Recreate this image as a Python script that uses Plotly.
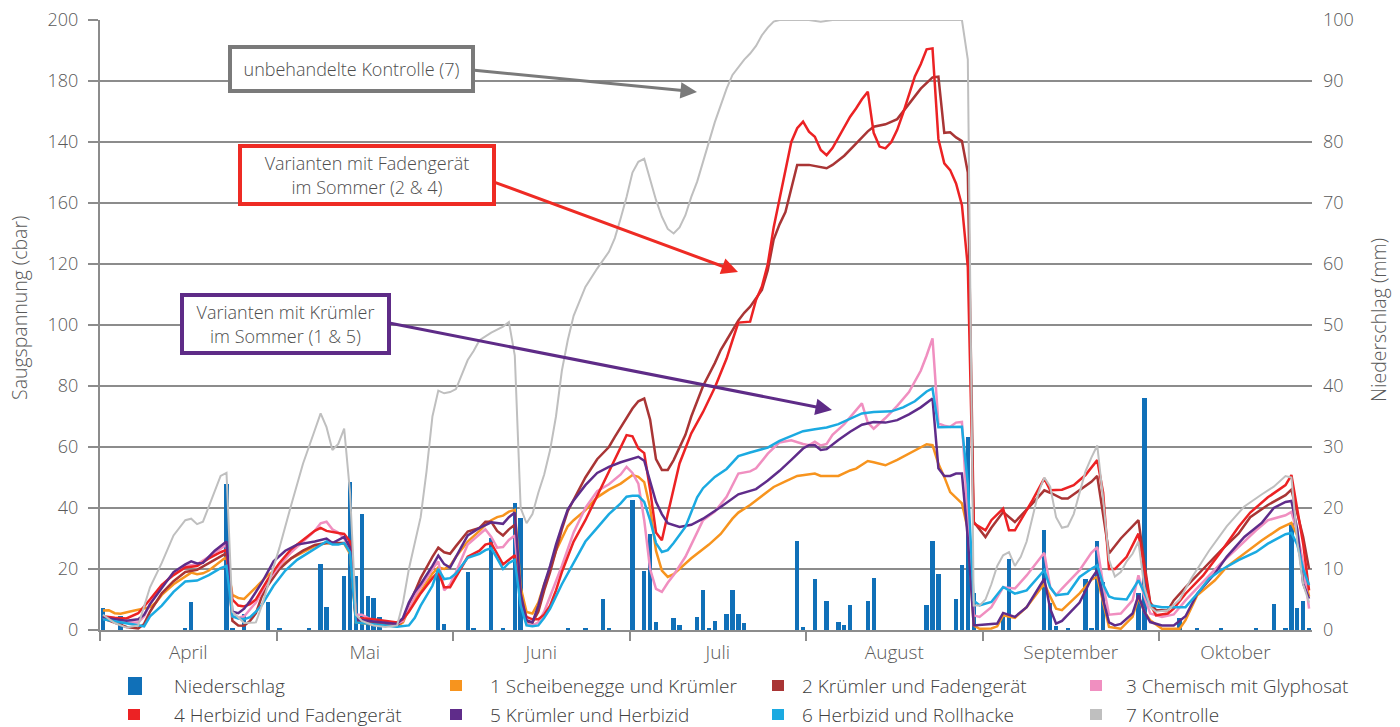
import plotly.graph_objects as go

# ---------------------------------------------------------------------------
# Data: soil water tension (cbar) per variant and daily precipitation (mm).
# Day 0 = 1 April; the category axis has a month tick every 30 days.
# ---------------------------------------------------------------------------
n_days = 206
month_names = ["April", "Mai", "Juni", "Juli", "August", "September", "Oktober"]
month_label_pos = [15, 45, 75, 105, 135, 165, 193]
month_bounds = [0, 30, 60, 90, 120, 150, 180]

cbar_ticks = [0, 20, 40, 60, 80, 100, 120, 140, 160, 180, 200]
cbar_tick_text = ["0", "20", "40", "60", "80", "100", "120", "160", "140", "180", "200"]
mm_ticks = [0, 10, 20, 30, 40, 50, 60, 70, 80, 90, 100]

rain_day = [0, 3, 14, 15, 21, 22, 24, 28, 30, 35, 37, 38, 41, 42, 43, 44, 45, 46, 47,
            57, 58, 62, 63, 66, 68, 70, 71, 79, 82, 85, 86, 90, 92, 93, 94, 97, 98,
            101, 102, 103, 104, 106, 107, 108, 109, 118, 119, 121, 123, 125, 126, 127,
            130, 131, 140, 141, 142, 145, 146, 147, 148, 153, 154, 160, 161, 162, 164,
            167, 168, 169, 170, 176, 177, 181, 183, 186, 190, 196, 199, 201, 202, 203,
            204, 205]
rain_mm = [3.6, 2.3, 0.3, 4.6, 23.9, 0.3, 2.7, 4.6, 0.3, 0.4, 10.9, 3.7, 8.8, 24.3, 8.8,
           19.0, 5.5, 5.3, 2.1, 9.8, 1.0, 9.5, 0.3, 15.1, 0.3, 20.8, 18.3, 0.3, 0.3, 5.1,
           0.4, 21.3, 9.7, 15.7, 1.3, 1.9, 0.8, 2.2, 6.5, 0.3, 1.4, 2.7, 6.5, 2.6, 1.1,
           14.6, 0.5, 8.3, 4.8, 1.3, 0.9, 4.1, 4.8, 8.5, 4.1, 14.6, 9.1, 5.1, 10.7, 31.7,
           6.0, 2.2, 11.6, 16.4, 4.4, 0.7, 0.3, 8.3, 0.3, 14.6, 7.8, 6.0, 38.1, 0.2, 1.9,
           0.2, 0.2, 0.2, 4.3, 0.2, 17.5, 3.6, 4.8, 0.3]

# (day, cbar) vertices of each variant
v1_scheibenegge = [
    (0, 6.4), (1, 6.5), (2, 5.5), (3, 5.3), (5, 6.2), (7, 7.1), (8, 7.5), (9, 9), (10, 11.5),
    (12, 15), (14, 17.5), (15, 18.8), (16, 18.3), (17, 18.6), (18, 19.5), (20, 22.5), (21, 24),
    (22, 11.5), (23, 10.5), (24, 10.2), (25, 12), (26, 14), (28, 18), (30, 20.5), (32, 23.5),
    (34, 25.5), (36, 27.5), (38, 28.5), (40, 28.5), (41, 28.3), (42, 25), (43, 2.5), (46, 1.8),
    (48, 1.5), (50, 1.2), (51, 2.5), (52, 7), (53, 10), (54, 12.5), (56, 18.5), (57, 20.5),
    (58, 20), (59, 21), (60, 24), (62, 29), (64, 32.5), (65, 34.5), (66, 36), (67, 37),
    (68, 37.5), (69, 38.8), (70, 39.4), (71, 14), (72, 5.9), (73, 5.4), (74, 9), (75, 15),
    (76, 20), (77, 26), (78, 30), (79, 34), (80, 36), (82, 39.3), (84, 43.5), (86, 46),
    (88, 48), (89, 49.5), (90, 50.8), (91, 50.2), (92, 48.5), (93, 40), (94, 26), (95, 19.5),
    (96, 17.4), (97, 18.3), (98, 20), (100, 23.5), (103, 28), (105, 31.5), (107, 36.5),
    (108, 38.5), (110, 41), (112, 44), (114, 46.9), (116, 48.7), (118, 50.5), (121, 51.3),
    (122, 50.5), (125, 50.5), (127, 52.3), (128, 52.9), (130, 55.4), (131, 55), (133, 54),
    (135, 55.8), (137, 57.8), (139, 60), (140, 60.9), (141, 60.6), (142, 54.5), (143, 50.2),
    (144, 45.2), (146, 41.5), (147, 33), (148, 1.5), (149, 0.4), (151, 0.5), (152, 1.2),
    (153, 4.8), (155, 4), (157, 7.5), (160, 15.2), (161, 11), (162, 7), (163, 6.5), (166, 12),
    (168, 16.5), (169, 17.4), (170, 9), (171, 1), (173, 0.4), (175, 4.3), (176, 10.8),
    (177, 6), (178, 3.2), (180, 0.4), (183, 0.4), (184, 3.2), (186, 11.4), (189, 16.3),
    (191, 20.7), (194, 25.1), (197, 29.4), (200, 33.3), (202, 35.1), (203, 31), (204, 20),
    (205, 11)]

v2_kruemler_faden = [
    (0, 3.8), (2, 2.5), (4, 1), (6, 0.5), (7, 2), (8, 6), (10, 12), (12, 16), (14, 19),
    (16, 19.7), (18, 22), (20, 24.3), (21, 25.2), (22, 3), (23, 1.5), (24, 1.4), (25, 3),
    (26, 5.5), (27, 11), (28, 14.5), (30, 20), (32, 23.5), (34, 26), (36, 27.9), (38, 28.5),
    (41, 28.5), (42, 27), (43, 3), (46, 2.2), (48, 1.8), (50, 1.5), (51, 3), (52, 8),
    (53, 12.5), (54, 17), (56, 24), (57, 27), (58, 25.5), (59, 25), (60, 27.5), (62, 32.3),
    (64, 33.5), (65, 35.5), (66, 35.5), (67, 32.5), (68, 31), (69, 33), (70, 34.5), (71, 11),
    (72, 2.6), (73, 2.5), (74, 6), (75, 13), (76, 19), (77, 26), (78, 33), (79, 39),
    (80, 42.5), (82, 50), (84, 56), (86, 60), (87, 63.3), (88, 66.5), (90, 72.6), (91, 75),
    (92, 75.9), (93, 69), (94, 56), (95, 52.5), (96, 52.5), (97, 55.7), (98, 60), (99, 64),
    (100, 70), (102, 80), (104, 87.5), (105, 91.8), (106, 95), (107, 98.5), (108, 101.5),
    (109, 104), (110, 106), (112, 111.5), (113, 118), (114, 128), (115, 133), (116, 137),
    (117, 144.3), (118, 152.5), (120, 152.5), (122, 151.7), (123, 151.4), (124, 152.5),
    (126, 155.5), (128, 159.5), (130, 163.5), (131, 165), (133, 165.8), (135, 167.5),
    (137, 172.5), (139, 177.5), (141, 181.2), (142, 181.4), (143, 163), (144, 163.2),
    (145, 161.5), (146, 160.3), (147, 150), (148, 35.5), (150, 30.5), (151, 33.5),
    (153, 38.7), (155, 35.4), (158, 41.5), (160, 45.8), (161, 45), (163, 43.1), (164, 43.1),
    (166, 45.8), (168, 48.6), (169, 50.5), (170, 38), (171, 25.1), (173, 30), (176, 36),
    (177, 22), (178, 9), (179, 6.5), (181, 6.5), (182, 9.7), (184, 14), (187, 20), (190, 26),
    (193, 31.6), (195, 37), (198, 41), (201, 44.2), (202, 46), (203, 38), (204, 30.5),
    (205, 20)]

v3_glyphosat = [
    (0, 4), (2, 3), (4, 2.5), (6, 2.5), (7, 4.5), (8, 8.5), (10, 14.5), (12, 18.5), (14, 21),
    (16, 21.5), (18, 24), (20, 26.5), (21, 28), (22, 4.5), (23, 4), (24, 4.5), (26, 9),
    (28, 16), (30, 21), (32, 25.5), (34, 29), (36, 32.5), (37, 35), (38, 35.5), (39, 33),
    (40, 32), (41, 30), (42, 27), (43, 5), (44, 5), (46, 3), (48, 2.5), (50, 2), (51, 3),
    (52, 7), (53, 11), (54, 14), (56, 20), (57, 22.5), (58, 13), (59, 15), (60, 19), (62, 28),
    (64, 31.5), (65, 33), (66, 30.5), (67, 27), (68, 27.2), (69, 29.5), (70, 31), (71, 9),
    (72, 2), (73, 1.5), (74, 2.5), (75, 6), (76, 11), (78, 21), (80, 32), (82, 40),
    (84, 45.5), (86, 47.8), (88, 51), (89, 53.5), (90, 51.5), (91, 48), (92, 36), (93, 20),
    (94, 13.5), (95, 12.5), (96, 15.5), (97, 18), (99, 24), (100, 28), (101, 32.5), (102, 36),
    (104, 38.8), (106, 43.7), (108, 51.3), (110, 52), (111, 53), (113, 57.8), (115, 61.5),
    (117, 62.2), (119, 61), (120, 60.6), (121, 61.7), (122, 60.5), (123, 61), (124, 64),
    (126, 67.5), (128, 72), (129, 74.3), (130, 68), (131, 66), (133, 69.5), (135, 73.5),
    (137, 78), (138, 81.4), (139, 85), (140, 90), (141, 95.6), (142, 67.7), (143, 67),
    (144, 66.6), (145, 68), (146, 68.2), (147, 35), (148, 4.8), (149, 4.3), (151, 7.5),
    (153, 14), (155, 13.6), (157, 17.9), (160, 25.3), (161, 14), (162, 11.4), (163, 13.6),
    (166, 19.6), (168, 25.3), (169, 27.2), (170, 15), (171, 5), (173, 5.4), (175, 9.7),
    (176, 17.9), (177, 11), (178, 5.4), (180, 4.3), (182, 5.1), (184, 9.7), (187, 15.8),
    (190, 21.8), (193, 27.2), (196, 32.7), (198, 36), (201, 37.6), (202, 38.7), (203, 32),
    (204, 21.8), (205, 7)]

v4_herbizid_faden = [
    (0, 4.5), (2, 4), (4, 3.8), (6, 5.5), (8, 10), (10, 14.8), (12, 18), (14, 20.5), (16, 21),
    (18, 23.5), (20, 25.5), (21, 26.3), (22, 10), (23, 8), (24, 7.7), (25, 8.5), (26, 10),
    (28, 16.5), (30, 22), (32, 26.5), (34, 29.5), (36, 32.5), (37, 33.5), (38, 32.5),
    (40, 31.8), (41, 31.5), (42, 29), (43, 4), (46, 3.5), (48, 3), (50, 2.5), (51, 3.5),
    (52, 6), (54, 12), (56, 17), (57, 19), (58, 14), (59, 14), (60, 17.5), (62, 24), (64, 26),
    (65, 28), (66, 28.5), (67, 25), (68, 21.5), (69, 23), (70, 24.5), (71, 10), (72, 4.3),
    (73, 3.5), (74, 3.5), (75, 5), (76, 8), (77, 13), (78, 19), (79, 24), (80, 29), (82, 36),
    (84, 44), (86, 52), (88, 60), (89, 63.9), (90, 63.5), (91, 59.5), (92, 58), (93, 46),
    (94, 32), (95, 29.4), (96, 38), (98, 54.6), (100, 64.5), (102, 71.5), (104, 79.5),
    (106, 89), (107, 95), (108, 100.8), (110, 101.1), (111, 108.2), (112, 112.6), (113, 120),
    (114, 132), (115, 141), (116, 150), (117, 160), (118, 164.5), (119, 166.7), (120, 163.4),
    (121, 161.7), (122, 157.4), (123, 155.7), (124, 158), (125, 161.5), (126, 164.5),
    (127, 168.3), (128, 171), (129, 174), (130, 176.5), (131, 163), (132, 158.5),
    (133, 157.9), (134, 160), (135, 164), (136, 169.5), (137, 175.5), (138, 181.5),
    (139, 185.5), (140, 190.4), (141, 190.7), (142, 161), (143, 153), (144, 150.8),
    (145, 146.4), (146, 139.3), (147, 119), (148, 35), (150, 32.7), (151, 36), (153, 39.8),
    (154, 32.7), (155, 32.7), (156, 36), (158, 42.6), (160, 49.7), (161, 45.8), (163, 46),
    (165, 47.5), (167, 50.8), (169, 55.7), (170, 45), (171, 20), (172, 20), (174, 24),
    (176, 31.6), (177, 20), (178, 8.6), (179, 4.8), (181, 5.4), (182, 7), (184, 11.9),
    (187, 17.9), (190, 25.6), (193, 33.8), (195, 38.5), (198, 43.5), (201, 47.5),
    (202, 50.8), (203, 40), (204, 28.3), (205, 13)]

v5_kruemler_herbizid = [
    (0, 4), (2, 3.5), (4, 3), (6, 3.5), (7, 5), (8, 8.5), (10, 13.7), (12, 19), (14, 21.5),
    (15, 22.5), (16, 21.8), (17, 22), (19, 26), (21, 29), (22, 6), (23, 5.5), (24, 7),
    (25, 9.5), (27, 15.5), (29, 22.5), (31, 26), (33, 28), (36, 29), (38, 30), (39, 28.5),
    (41, 30.5), (42, 27), (43, 3.5), (46, 2.8), (48, 2.3), (50, 2), (51, 4), (52, 9),
    (53, 12.5), (54, 15), (56, 21), (57, 24.4), (58, 21.6), (59, 20.5), (60, 24), (62, 31),
    (64, 33.5), (66, 35.3), (68, 34.8), (69, 37), (70, 38.5), (71, 12), (72, 3.2), (73, 2.5),
    (74, 8), (75, 15), (76, 21), (77, 28), (78, 34), (79, 39.5), (80, 42.5), (82, 47.5),
    (84, 51.5), (86, 53.5), (88, 55), (90, 56.3), (91, 56.8), (92, 55.5), (93, 49), (94, 42),
    (95, 38), (96, 35), (98, 33.8), (100, 34.5), (102, 36.5), (105, 40.3), (108, 44.5),
    (111, 46.2), (113, 49), (115, 52.2), (117, 55.8), (119, 59.5), (120, 60.6), (121, 60.6),
    (122, 59), (123, 59.3), (125, 62.3), (127, 65), (129, 67.3), (131, 68.2), (133, 68),
    (135, 68.8), (137, 70.7), (139, 73), (141, 75.9), (142, 53), (143, 50.5), (144, 50.5),
    (145, 51.3), (146, 51.3), (147, 30), (148, 1.5), (152, 2.1), (153, 5.6), (155, 4.3),
    (157, 7.5), (160, 16.8), (161, 7), (162, 2.1), (163, 3), (166, 9), (168, 16.8),
    (169, 19.6), (170, 10), (171, 2.5), (172, 1.5), (173, 2), (175, 5.4), (176, 11.4),
    (177, 6), (178, 2.6), (180, 1.5), (182, 1.5), (184, 4.5), (186, 11.9), (189, 18.5),
    (191, 24), (194, 30.5), (197, 35.2), (199, 40), (201, 42), (202, 42.3), (203, 33),
    (204, 15.2), (205, 10.3)]

v6_rollhacke = [
    (0, 3.5), (2, 2.8), (4, 2.2), (6, 1.5), (7, 1.2), (8, 4.5), (10, 8), (12, 12.5),
    (14, 15.9), (16, 16.2), (18, 18), (20, 20.3), (21, 21), (22, 4.5), (23, 3.8), (24, 3.5),
    (25, 4.2), (26, 6), (27, 8.2), (29, 14.5), (31, 19.5), (33, 23), (35, 25.5), (37, 28),
    (38, 29), (39, 28), (40, 28), (41, 28.5), (42, 25.5), (43, 2.5), (46, 1.8), (48, 1.4),
    (50, 1.1), (52, 1.5), (53, 4), (54, 8), (56, 14.5), (57, 20), (58, 16.7), (59, 17),
    (60, 18.5), (62, 23.7), (64, 25), (65, 26.2), (66, 26.8), (67, 23.5), (68, 20), (69, 22),
    (70, 23), (71, 8), (72, 1.5), (73, 1.2), (74, 1.5), (75, 4), (76, 7), (78, 15), (80, 22),
    (82, 29), (84, 33.5), (86, 38), (88, 41.5), (89, 43.7), (90, 44), (91, 44), (92, 42),
    (93, 36), (94, 28.5), (95, 25.6), (96, 26.2), (97, 28.5), (99, 33.8), (100, 38.5),
    (101, 43.5), (102, 46.5), (104, 50.2), (106, 52.8), (108, 57), (110, 58.2), (113, 59.8),
    (115, 62), (117, 63.6), (119, 65.2), (121, 65.8), (123, 66.4), (125, 67.5), (127, 69.2),
    (129, 71), (131, 71.5), (134, 71.7), (136, 73), (138, 75), (140, 78.2), (141, 79.2),
    (142, 66.5), (146, 66.6), (147, 48), (148, 9.6), (149, 8.1), (151, 9.2), (153, 14.1),
    (155, 11.9), (157, 13), (160, 19.6), (161, 14), (162, 11.4), (164, 11.9), (166, 17.4),
    (168, 20.1), (169, 21.2), (170, 15), (171, 11), (172, 10.3), (174, 10), (176, 16.3),
    (177, 12), (178, 8.1), (180, 7.5), (184, 7.5), (186, 11.9), (188, 16.8), (190, 19.6),
    (193, 22.9), (196, 25.6), (198, 28.3), (201, 31.4), (202, 31.8), (203, 28), (204, 20),
    (205, 14.7)]

v7_kontrolle = [
    (0, 5), (2, 2.3), (4, 0.8), (6, 1.5), (8, 14), (10, 22), (12, 31), (13, 33.5), (14, 36),
    (15, 36.5), (16, 34.7), (17, 35.5), (18, 40.5), (20, 50.5), (21, 51.5), (22, 6),
    (24, 2.3), (26, 2.5), (27, 8), (29, 21), (30, 27), (32, 41), (34, 54.5), (36, 65.5),
    (37, 71), (38, 66.5), (39, 59), (40, 61), (41, 66), (42, 45), (43, 5), (44, 3), (46, 1.5),
    (48, 1), (50, 1.5), (51, 9), (52, 20), (54, 37), (55, 52), (56, 70), (57, 78.5),
    (58, 77.6), (59, 78), (60, 79), (61, 84), (62, 88.5), (63, 91.5), (64, 95), (66, 97.5),
    (68, 99.5), (69, 101), (70, 90), (71, 40), (72, 35), (73, 38), (74, 45), (75, 51),
    (76, 59), (77, 70), (78, 85), (79, 95), (80, 103), (82, 112.5), (84, 118.5), (86, 124),
    (87, 128.5), (88, 135), (89, 142), (90, 150), (91, 153.5), (92, 154.5), (93, 148),
    (94, 141), (95, 135.5), (96, 131.5), (97, 130), (98, 132), (99, 136), (100, 142),
    (101, 147), (102, 153.5), (103, 160), (104, 166.5), (105, 172), (106, 177.5), (107, 182),
    (108, 184.5), (109, 187), (110, 189), (111, 191.5), (112, 195), (113, 197.5),
    (114, 199.5), (115, 200), (120, 200), (122, 199.4), (124, 200), (146, 200), (147, 187),
    (148, 8), (149, 8), (150, 10), (151, 15), (152, 21), (153, 24.5), (154, 25.5), (155, 21),
    (156, 24), (157, 29), (158, 37), (159, 45), (160, 50), (161, 47), (162, 37), (163, 33.5),
    (164, 34), (165, 38), (166, 45), (167, 52), (168, 56.5), (169, 60.5), (170, 43),
    (171, 23), (172, 17.5), (173, 19), (174, 22.5), (175, 25), (176, 29), (177, 14),
    (178, 7.5), (179, 6), (181, 6.5), (183, 10), (185, 17), (188, 26), (191, 34), (194, 40.5),
    (197, 44.5), (199, 47), (201, 50.5), (202, 50), (203, 29), (204, 15), (205, 9)]

# ---------------------------------------------------------------------------
# Styling
# ---------------------------------------------------------------------------
FONT = "'Open Sans', Roboto, sans-serif"
WEIGHT = 300
TEXT = "#595959"
LEGEND_TEXT = "#404040"
GRID = "#8C8C8C"
RAIN = "#1070B8"
C_ORANGE = "#F7941E"
C_BROWN = "#A93535"
C_PINK = "#F08FC0"
C_RED = "#EC2224"
C_PURPLE = "#5F2C8A"
C_CYAN = "#1BAAE1"
C_GRAY = "#BFBFBF"

series = [
    ("1 Scheibenegge und Krümler", v1_scheibenegge, C_ORANGE, 2.5),
    ("2 Krümler und Fadengerät", v2_kruemler_faden, C_BROWN, 2.5),
    ("3 Chemisch mit Glyphosat", v3_glyphosat, C_PINK, 2.5),
    ("4 Herbizid und Fadengerät", v4_herbizid_faden, C_RED, 2.5),
    ("5 Krümler und Herbizid", v5_kruemler_herbizid, C_PURPLE, 2.5),
    ("6 Herbizid und Rollhacke", v6_rollhacke, C_CYAN, 2.5),
    ("7 Kontrolle", v7_kontrolle, C_GRAY, 2.0),
]

W, H = 1400, 727
ML, MR, MT, MB = 100, 88, 20, 97
PW, PH = W - ML - MR, H - MT - MB


def fx(px):
    return (px - ML) / PW


def fy(py):
    return (H - MB - py) / PH


def font(size, color=TEXT):
    return dict(family=FONT, size=size, color=color, weight=WEIGHT)


fig = go.Figure()

# precipitation bars on the base (right-hand) axis so that the lines sit above them
fig.add_trace(go.Bar(
    x=[d + 0.5 for d in rain_day], y=rain_mm, width=0.74,
    marker=dict(color=RAIN, line=dict(width=0)),
    name="Niederschlag", xaxis="x", yaxis="y", hoverinfo="x+y"))

for name, pts, color, lw in series:
    days = [p[0] + 0.5 for p in pts]
    vals = [p[1] for p in pts]
    fig.add_trace(go.Scatter(
        x=days, y=vals, mode="lines", name=name,
        line=dict(color=color, width=lw), xaxis="x", yaxis="y2"))

# ---------------------------------------------------------------------------
# Annotations: callout boxes, arrows, axis titles
# ---------------------------------------------------------------------------
annotations = []
shapes = []

callouts = [
    ("unbehandelte Kontrolle (7)", (230, 473, 47, 91), "#7A7A7A"),
    ("Varianten mit Fadengerät<br>im Sommer (2 &amp; 4)", (240, 494, 146, 204), "#EE2B24"),
    ("Varianten mit Krümler<br>im Sommer (1 &amp; 5)", (182, 389, 295, 353), "#5E2B87"),
]
for text, (x0, x1, y0, y1), col in callouts:
    annotations.append(dict(
        text=text, xref="paper", yref="paper",
        x=fx((x0 + x1) / 2), y=fy((y0 + y1) / 2), xanchor="center", yanchor="middle",
        showarrow=False, align="center", bgcolor="white",
        bordercolor=col, borderwidth=4, borderpad=0,
        width=(x1 - x0) - 4, height=(y1 - y0) - 4,
        font=font(18, "#4D4D4D")))

arrows = [
    ((473, 70), (697, 92), "#7A7A7A"),
    ((494, 182), (738, 272), "#EE2B24"),
    ((389, 323), (832, 410), "#5E2B87"),
]
for (tx, ty), (hx, hy), col in arrows:
    annotations.append(dict(
        text="", xref="paper", yref="paper", x=fx(hx), y=fy(hy),
        ax=tx - hx, ay=ty - hy, axref="pixel", ayref="pixel",
        showarrow=True, arrowhead=2, arrowsize=1.1, arrowwidth=3,
        arrowcolor=col, standoff=0, startstandoff=0))

annotations.append(dict(
    text="Saugspannung (cbar)", xref="paper", yref="paper",
    x=fx(19), y=fy(308), textangle=-90, showarrow=False,
    xanchor="center", yanchor="middle", font=font(19.5)))
annotations.append(dict(
    text="Niederschlag (mm)", xref="paper", yref="paper",
    x=fx(1378), y=fy(320), textangle=-90, showarrow=False,
    xanchor="center", yanchor="middle", font=font(19.5)))

# ---------------------------------------------------------------------------
# Legend (two rows, four columns)
# ---------------------------------------------------------------------------
legend_rows = [686, 715]
legend_marker_x = [128, 450, 772, 1090]
legend_text_x = [172, 488, 800, 1124]
legend_items = [("Niederschlag", RAIN, True)] + [(s[0], s[2], False) for s in series]

for i, (label, col, is_bar) in enumerate(legend_items):
    row, colno = divmod(i, 4)
    cy = legend_rows[row]
    mx = legend_marker_x[colno]
    if is_bar:
        x0, x1, y0, y1 = mx, mx + 14, cy - 9, cy + 9
    else:
        x0, x1, y0, y1 = mx, mx + 12, cy - 6, cy + 5
    shapes.append(dict(type="rect", xref="paper", yref="paper",
                       x0=fx(x0), x1=fx(x1), y0=fy(y1), y1=fy(y0),
                       fillcolor=col, line=dict(width=0)))
    annotations.append(dict(
        text=label, xref="paper", yref="paper", x=fx(legend_text_x[colno]), y=fy(cy),
        xanchor="left", yanchor="middle", showarrow=False,
        font=font(19, LEGEND_TEXT)))

fig.update_layout(
    width=W, height=H,
    margin=dict(l=ML, r=MR, t=MT, b=MB, pad=0),
    paper_bgcolor="white", plot_bgcolor="white",
    showlegend=False, bargap=0,
    font=font(18),
    xaxis=dict(
        range=[0, n_days], tickmode="array", tickvals=month_label_pos, ticktext=month_names,
        ticks="", showgrid=False, zeroline=False,
        showline=True, linecolor=GRID, linewidth=2,
        minor=dict(tickmode="array", tickvals=month_bounds, ticks="outside",
                   ticklen=9, tickwidth=2, tickcolor=GRID, showgrid=False),
        tickfont=font(19), ticklabelstandoff=4,
        automargin=False, fixedrange=True),
    yaxis=dict(
        range=[0, 100], side="right", anchor="x", tickmode="array", tickvals=mm_ticks,
        ticks="", showgrid=False, zeroline=False, showline=False,
        tickfont=font(18), ticklabelstandoff=10,
        automargin=False, fixedrange=True),
    yaxis2=dict(
        range=[0, 200], side="left", overlaying="y", anchor="x",
        tickmode="array", tickvals=cbar_ticks, ticktext=cbar_tick_text,
        ticks="outside", ticklen=10, tickwidth=2, tickcolor=GRID,
        showgrid=True, gridcolor=GRID, gridwidth=2, zeroline=False,
        showline=True, linecolor=GRID, linewidth=2,
        tickfont=font(18), ticklabelstandoff=6,
        automargin=False, fixedrange=True),
    annotations=annotations,
    shapes=shapes,
)

fig.write_html("out.html")
